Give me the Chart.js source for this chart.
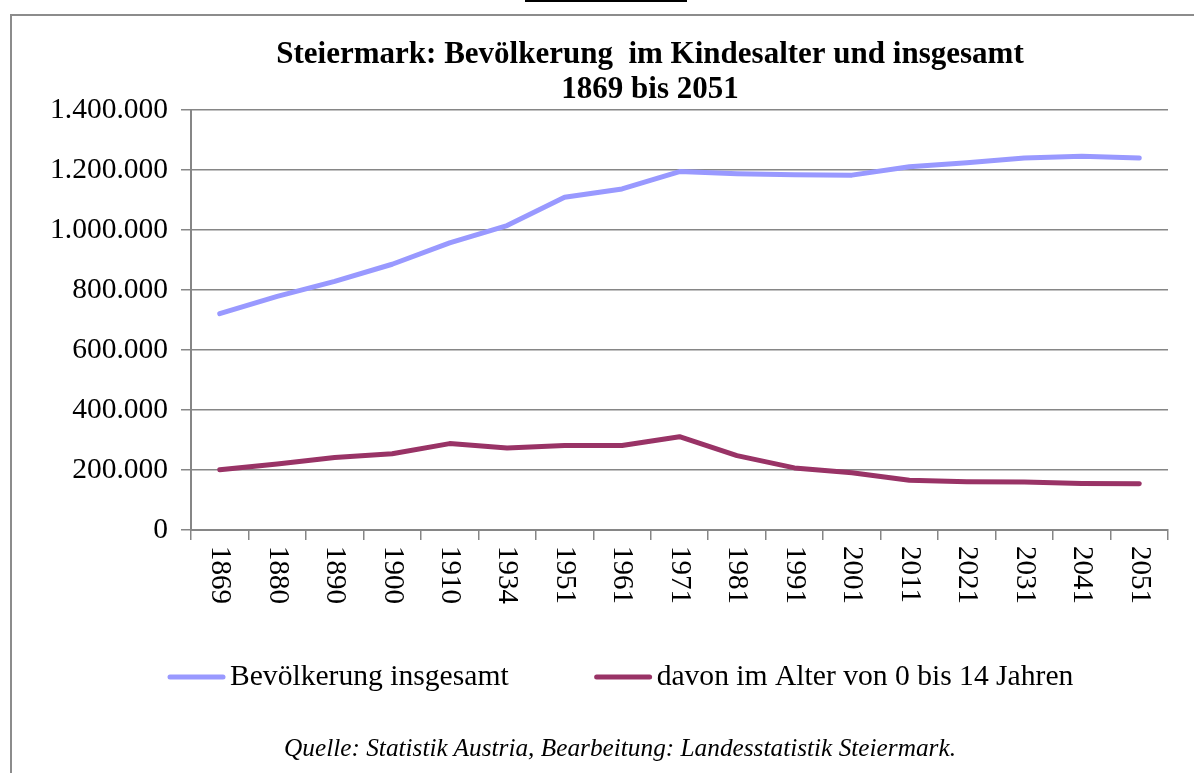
<!DOCTYPE html>
<html>
<head>
<meta charset="utf-8">
<script src="https://cdn.jsdelivr.net/npm/chart.js@4.4.1/dist/chart.umd.min.js"></script>
<style>
  html, body { margin: 0; padding: 0; background: #fff; overflow: hidden; width: 1194px; height: 773px; }
  #frame { position: absolute; left: 10px; top: 14px; width: 1200px; height: 800px;
           border-left: 2px solid #8c8c8c; border-top: 2px solid #8c8c8c; }
  #topline { position: absolute; left: 525px; top: 0px; width: 162px; height: 2px; background: #000; }
  #chart { position: absolute; left: 12px; top: 16px; }
  #source { position: absolute; left: 0; width: 1240px; top: 733px; text-align: center;
            font-family: "Liberation Serif", serif; font-style: italic; font-size: 25.3px; color: #000; }
</style>
</head>
<body>
<div id="topline"></div>
<div id="frame"></div>
<canvas id="chart" width="1276" height="757"></canvas>
<div id="source">Quelle: Statistik Austria, Bearbeitung: Landesstatistik Steiermark.</div>
<script>
const years = ['1869','1880','1890','1900','1910','1934','1951','1961','1971','1981','1991','2001','2011','2021','2031','2041','2051'];
const totalPopulation = [721000, 779000, 829000, 886000, 957000, 1015000, 1109000, 1137000, 1195000, 1188000, 1184000, 1183000, 1211000, 1224000, 1240000, 1246000, 1240000];
const children0to14 = [201000, 220000, 242000, 254000, 288000, 273000, 282000, 282000, 311000, 248000, 207000, 191000, 166000, 161000, 160000, 155000, 154000];
const seriesLabels = ['Bevölkerung insgesamt', 'davon im Alter von 0 bis 14 Jahren'];
const titleLines = ['Steiermark: Bevölkerung  im Kindesalter und insgesamt', '1869 bis 2051'];
const yMin = 0, yMax = 1400000, yStep = 200000;

const SERIF = '"Liberation Serif", "Times New Roman", serif';
const GRID = '#868686';

function fmtDE(v) {
  return String(Math.round(v)).replace(/\B(?=(\d{3})+(?!\d))/g, '.');
}

const rotatedXLabels = {
  id: 'rotatedXLabels',
  afterDraw(chart) {
    const ctx = chart.ctx, xs = chart.scales.x;
    ctx.save();
    ctx.font = '29px ' + SERIF;
    ctx.fillStyle = '#000';
    ctx.textAlign = 'left';
    ctx.textBaseline = 'middle';
    chart.data.labels.forEach((lab, i) => {
      const x = xs.getPixelForValue(i);
      ctx.save();
      ctx.translate(x, xs.top + 16);
      ctx.rotate(Math.PI / 2);
      ctx.fillText(lab, 0, 0);
      ctx.restore();
    });
    ctx.restore();
  }
};

const lineLegend = {
  id: 'lineLegend',
  afterDraw(chart) {
    const ctx = chart.ctx;
    ctx.save();
    ctx.font = '29.6px ' + SERIF;
    ctx.textBaseline = 'middle';
    ctx.textAlign = 'left';
    let x = 156;
    const y = 661;
    chart.data.datasets.forEach(ds => {
      ctx.strokeStyle = ds.borderColor;
      ctx.lineWidth = 5;
      ctx.lineCap = 'round';
      ctx.beginPath();
      ctx.moveTo(x + 2, y);
      ctx.lineTo(x + 55, y);
      ctx.stroke();
      ctx.fillStyle = '#000';
      ctx.fillText(ds.label, x + 62, y);
      x += 62 + ctx.measureText(ds.label).width + 86;
    });
    ctx.restore();
  }
};

new Chart(document.getElementById('chart'), {
  type: 'line',
  data: {
    labels: years,
    datasets: [
      { label: seriesLabels[0], data: totalPopulation, borderColor: '#9999FF', backgroundColor: '#9999FF',
        borderWidth: 5, pointRadius: 0, tension: 0, borderCapStyle: 'round', borderJoinStyle: 'round' },
      { label: seriesLabels[1], data: children0to14, borderColor: '#993366', backgroundColor: '#993366',
        borderWidth: 5, pointRadius: 0, tension: 0, borderCapStyle: 'round', borderJoinStyle: 'round' }
    ]
  },
  options: {
    responsive: false,
    animation: false,
    devicePixelRatio: 1,
    layout: { padding: 0 },
    plugins: {
      legend: { display: false },
      tooltip: { enabled: false },
      title: {
        display: true,
        text: titleLines,
        color: '#000',
        font: { family: SERIF, size: 31, weight: 'bold', lineHeight: 1.13 },
        padding: { top: 21, bottom: 3 }
      }
    },
    scales: {
      x: {
        type: 'category',
        offset: true,
        grid: { offset: true, drawOnChartArea: false, drawTicks: true, tickLength: 10, color: GRID, lineWidth: 1.5 },
        border: { display: true, color: GRID, width: 2 },
        ticks: { display: false },
        afterFit(s) { s.height = 243; }
      },
      y: {
        min: yMin, max: yMax,
        ticks: { stepSize: yStep, color: '#000', padding: 13, font: { family: SERIF, size: 29.5 },
                 callback: v => fmtDE(v) },
        grid: { color: GRID, lineWidth: 1.5, tickLength: 10 },
        border: { display: true, color: GRID, width: 2 },
        afterFit(s) { s.width = 179; }
      },
      yRight: {
        position: 'right',
        display: true,
        grid: { display: false },
        border: { display: false },
        ticks: { display: false },
        afterFit(s) { s.width = 120; }
      }
    }
  },
  plugins: [rotatedXLabels, lineLegend]
});
</script>
</body>
</html>
